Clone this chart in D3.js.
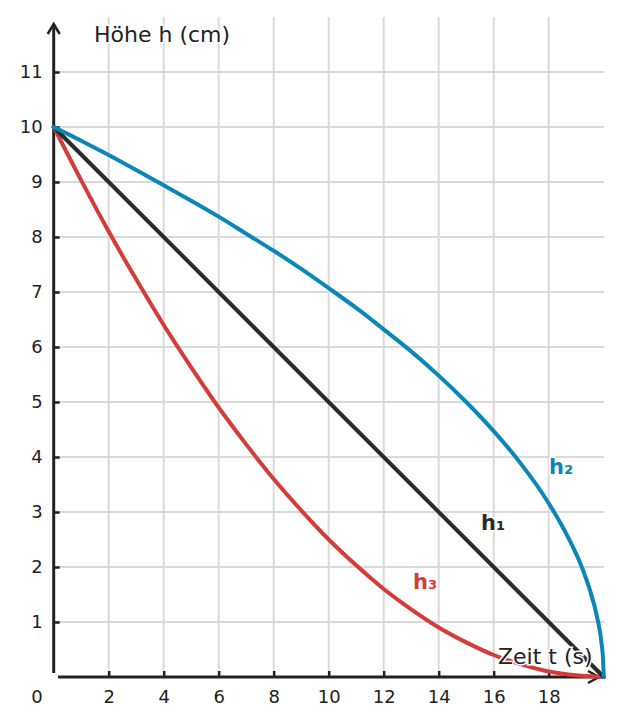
<!DOCTYPE html>
<html><head><meta charset="utf-8">
<script src="https://cdn.jsdelivr.net/npm/d3@7"></script>
<style>body{margin:0;background:#fff}svg{display:block}text{font-family:"DejaVu Sans",sans-serif}</style>
</head><body>
<svg id="c" width="621" height="725"></svg>
<script>
const xTicks = [2,4,6,8,10,12,14,16,18];
const yTicks = [1,2,3,4,5,6,7,8,9,10,11];
const tH1 = [0, 20];
const h1 = [10, 0];
const tH2 = [0,1,2,3,4,5,6,7,8,9,10,11,12,13,14,15,16,17,18,19,19.5,19.8,19.95,20];
const h2 = [10,9.75,9.49,9.22,8.94,8.66,8.37,8.06,7.75,7.42,7.07,6.71,6.32,5.92,5.48,5.00,4.47,3.87,3.16,2.24,1.58,1.00,0.50,0];
const tH3 = [0,1,2,3,4,5,6,7,8,9,10,11,12,13,14,15,16,17,18,19,20];
const h3 = [10,9.03,8.1,7.23,6.4,5.63,4.9,4.23,3.6,3.03,2.5,2.03,1.6,1.23,0.9,0.63,0.4,0.23,0.1,0.03,0];

const svg = d3.select("#c");
const x = d3.scaleLinear().domain([0,20]).range([53.7,603.7]);
const y = d3.scaleLinear().domain([0,10]).range([677,127]);

// grid
const g = svg.append("g");
g.selectAll(".vg").data(xTicks).join("line")
  .attr("x1",d=>x(d)).attr("x2",d=>x(d)).attr("y1",17).attr("y2",677)
  .attr("stroke","#d9d9d9").attr("stroke-width",2);
g.selectAll(".hg").data(yTicks).join("line")
  .attr("x1",x(0)).attr("x2",604).attr("y1",d=>y(d)).attr("y2",d=>y(d))
  .attr("stroke","#d9d9d9").attr("stroke-width",2);

// axes
const ink = "#222";
const yAxis = d3.axisLeft(y).tickValues(yTicks).tickSize(-6).tickPadding(11);
const ya = svg.append("g").attr("transform",`translate(${x(0)},0)`).call(yAxis);
ya.select(".domain").remove();
ya.selectAll(".tick line").attr("stroke",ink).attr("stroke-width",2.5);
ya.selectAll(".tick text").attr("font-size",18).attr("fill",ink).attr("font-family","DejaVu Sans");

const xAxis = d3.axisBottom(x).tickValues(xTicks).tickSize(-6).tickPadding(13);
const xa = svg.append("g").attr("transform",`translate(0,${y(0)})`).call(xAxis);
xa.select(".domain").remove();
xa.selectAll(".tick line").attr("stroke",ink).attr("stroke-width",2.5);
xa.selectAll(".tick text").attr("font-size",18).attr("fill",ink).attr("font-family","DejaVu Sans");

svg.append("text").attr("x",37).attr("y",702.7).attr("text-anchor","middle")
  .attr("font-size",18).attr("fill",ink).text("0");

// axis lines with arrows
svg.append("line").attr("x1",x(0)).attr("x2",x(0)).attr("y1",673).attr("y2",24)
  .attr("stroke",ink).attr("stroke-width",3);
svg.append("path").attr("d",`M${x(0)-6},${34} L${x(0)},${24} L${x(0)+6},${34}`)
  .attr("fill","none").attr("stroke",ink).attr("stroke-width",2.5);
svg.append("line").attr("x1",58).attr("x2",600).attr("y1",y(0)).attr("y2",y(0))
  .attr("stroke",ink).attr("stroke-width",3);
svg.append("path").attr("d",`M${588},${y(0)-6} L${599},${y(0)} L${588},${y(0)+6}`)
  .attr("fill","none").attr("stroke",ink).attr("stroke-width",2.5);

// curves
const line = d3.line().x(d=>x(d[0])).y(d=>y(d[1])).curve(d3.curveCatmullRom.alpha(0.5));
const series = [
  {t:tH3, v:h3, c:"#d43c3a"},
  {t:tH1, v:h1, c:"#2a2a2a"},
  {t:tH2, v:h2, c:"#0a86b8"}
];
series.forEach(s=>{
  svg.append("path").datum(s.t.map((t,i)=>[t,s.v[i]]))
    .attr("d",line).attr("fill","none").attr("stroke",s.c)
    .attr("stroke-width",4).attr("stroke-linecap","round");
});

// labels
function lab(tx,px,py,col,size,weight){
  svg.append("text").attr("x",px).attr("y",py).attr("fill",col)
    .attr("font-size",size).attr("font-weight",weight)
    .attr("stroke","#fff").attr("stroke-width",3).attr("paint-order","stroke")
    .text(tx);
}
lab("Höhe h (cm)",94,42,ink,22,"normal");
lab("Zeit t (s)",498,664,ink,22,"normal");
lab("h₂",549,474,"#0a86b8",21,"bold");
lab("h₁",481,530,"#2a2a2a",21,"bold");
lab("h₃",413,589,"#d43c3a",21,"bold");
</script>
</body></html>
